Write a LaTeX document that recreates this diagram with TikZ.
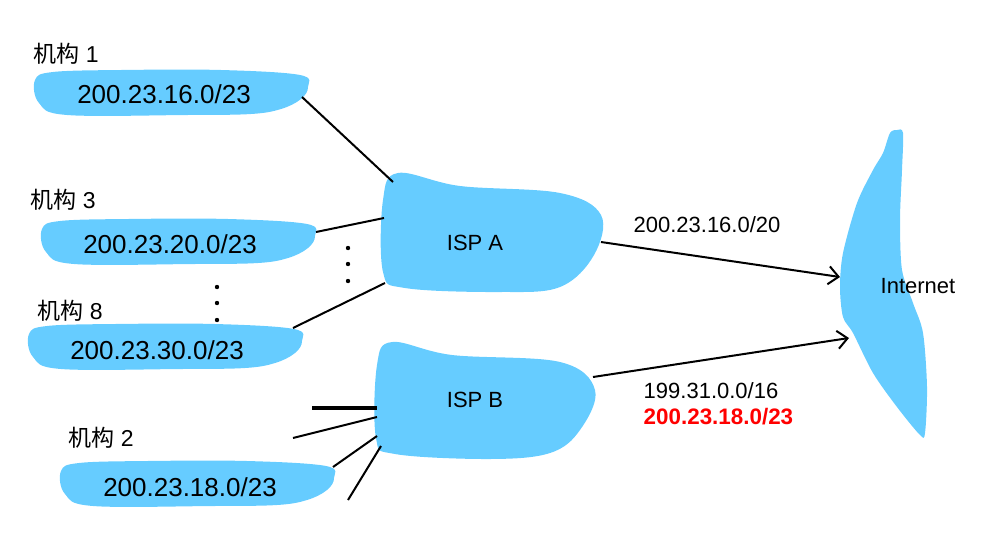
\documentclass[tikz,border=0pt]{standalone}
\usepackage{fontspec}
\setmainfont{Liberation Sans}
\newfontfamily\cjk{Noto Sans CJK SC}
\usetikzlibrary{arrows.meta,positioning}
\definecolor{cloud}{HTML}{66CCFF}
\definecolor{hlred}{HTML}{FF0000}

\newcommand{\orgblob}[1]{%
  \fill[cloud,shift={#1}] plot[smooth cycle,tension=0.6] coordinates
    {(-136,-14) (-118,-22) (-50,-24) (50,-24) (129,-19) (137,-7)
     (130,5) (110,15) (80,20) (16,21) (-104,21) (-132,9)};}

\begin{document}
\begin{tikzpicture}[x=0.5pt,y=-0.5pt,
  link/.style={line width=1pt},
  lbl/.style={font=\fontsize{11.5}{13}\selectfont,anchor=west,inner sep=0pt},
  pfx/.style={font=\fontsize{13}{15}\selectfont,inner sep=0pt},
  txt/.style={font=\fontsize{11}{13}\selectfont,inner sep=0pt}]
  \useasboundingbox (0,0) rectangle (989,541);

  % organisations
  \orgblob{(171,94)}
  \orgblob{(178,243)}
  \orgblob{(165,348)}
  \orgblob{(197,485)}
  \node[pfx] (org1) at (164,94) {200.23.16.0/23};
  \node[pfx] (org3) at (170,244) {200.23.20.0/23};
  \node[pfx] (org8) at (157,350) {200.23.30.0/23};
  \node[pfx] (org2) at (190,487) {200.23.18.0/23};
  \node[lbl] (name1) at (33,54) {{\cjk 机构} 1};
  \node[lbl] (name3) at (30,200) {{\cjk 机构} 3};
  \node[lbl] (name8) at (37,311) {{\cjk 机构} 8};
  \node[lbl] (name2) at (68,438) {{\cjk 机构} 2};

  % providers
  \fill[cloud] plot[smooth cycle,tension=0.6] coordinates
    {(398,173) (460,186) (560,193) (601,215) (594,255) (560,287)
     (500,292) (405,288) (383,272) (383,200)};
  \fill[cloud] plot[smooth cycle,tension=0.6] coordinates
    {(392,342) (452,355) (560,362) (595,390) (580,430) (550,453)
     (490,459) (395,454) (376,438) (377,365)};
  \fill[cloud] plot[smooth cycle,tension=0.5] coordinates
    {(897,130) (903,133) (902,170) (900,220) (902,270) (913,303) (923,333)
     (927,387) (925,433) (920,435) (897,407) (873,373) (853,333) (843,317)
     (840,287) (843,253) (857,203) (873,170) (883,153) (890,133)};
  \node[txt] (ispA) at (475,243) {ISP A};
  \node[txt] (ispB) at (475,400) {ISP B};
  \node[txt] (inet) at (918,286) {Internet};

  % attachment points
  \coordinate (o1) at (302,97);
  \coordinate (o3) at (316,232);
  \coordinate (o8) at (293,328);
  \coordinate (o2) at (333,467);
  \coordinate (a1) at (393,182);
  \coordinate (a3) at (384,218);
  \coordinate (a8) at (385,283);
  \coordinate (aout) at (601,242);
  \coordinate (bout) at (593,377);
  \coordinate (b1) at (377,408);
  \coordinate (b2) at (377,417);
  \coordinate (b3) at (377,436);
  \coordinate (b4) at (381,446);
  \coordinate (f1) at (312,408);
  \coordinate (f2) at (293,438);
  \coordinate (f4) at (348,500);
  \coordinate (inA) at (840,277);
  \coordinate (inB) at (849,338);

  \draw[link] (o1) -- (a1);
  \draw[link] (o3) -- (a3);
  \draw[link] (o8) -- (a8);
  \draw[line width=1.6pt] (f1) -- (b1);
  \draw[link] (f2) -- (b2);
  \draw[link] (o2) -- (b3);
  \draw[link] (f4) -- (b4);
  \foreach \y in {248,264,281} \fill (348,\y) circle (1.1pt);
  \foreach \y in {287,303,320} \fill (217,\y) circle (1.1pt);

  \draw[link,-{Straight Barb[length=5pt,width=9pt]}] (aout) -- (inA);
  \draw[link,-{Straight Barb[length=5pt,width=9pt]}] (bout) -- (inB);
  \node[txt] (routeA) at (707,225) {200.23.16.0/20};
  \node[txt] (routeB) at (711,391) {199.31.0.0/16};
  \node[txt,font=\fontsize{11.2}{13}\selectfont\bfseries,text=hlred,below right=4pt and 0pt of routeB.south west] (routeX) {200.23.18.0/23};
\end{tikzpicture}
\end{document}
